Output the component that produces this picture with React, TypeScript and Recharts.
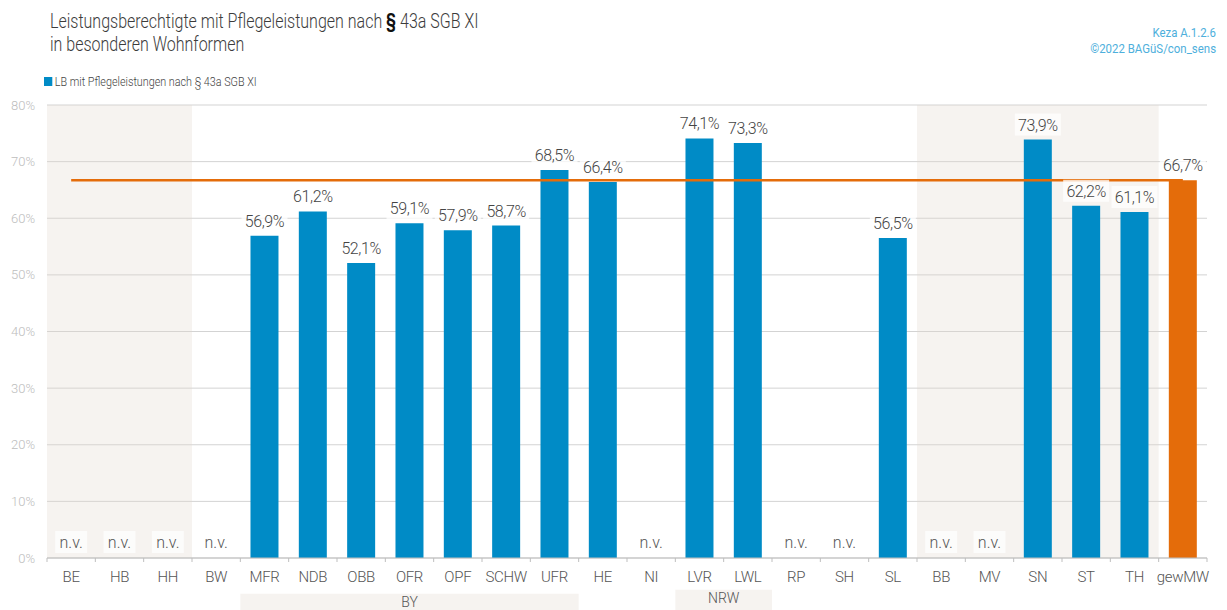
import React from 'react';
import {
  ComposedChart,
  Bar,
  Line,
  XAxis,
  YAxis,
  CartesianGrid,
  ReferenceArea,
  LabelList,
  Cell,
} from 'recharts';

const FONT = "'Roboto', 'Noto Sans', sans-serif";

// Bundesländer / Bezirke
const categories = [
  'BE', 'HB', 'HH', 'BW', 'MFR', 'NDB', 'OBB', 'OFR', 'OPF', 'SCHW', 'UFR', 'HE',
  'NI', 'LVR', 'LWL', 'RP', 'SH', 'SL', 'BB', 'MV', 'SN', 'ST', 'TH', 'gewMW',
];

// share of LB with Pflegeleistungen (%), null = n.v.
const shares: (number | null)[] = [
  null, null, null, null, 56.9, 61.2, 52.1, 59.1, 57.9, 58.7, 68.5, 66.4,
  null, 74.1, 73.3, null, null, 56.5, null, null, 73.9, 62.2, 61.1, 66.7,
];

const avgShare = 66.7;
const yTicks = [0, 10, 20, 30, 40, 50, 60, 70, 80];

const shadedRanges = [
  ['BE', 'HH'],
  ['BB', 'TH'],
];

const groupLabels = [
  { name: 'BY', from: 'MFR', to: 'UFR' },
  { name: 'NRW', from: 'LVR', to: 'LWL' },
];

const BLUE = '#008bc6';
const ORANGE = '#e46c0a';

const data = categories.map((name, i) => ({
  name,
  value: shares[i],
  nv: shares[i] === null ? 0 : null,
  avg: avgShare,
}));

const fmt = (v: number) => v.toFixed(1).replace('.', ',') + '%';

const ValueLabel = (props: any) => {
  const { x, y, value } = props;
  if (value === null || value === undefined) return null;
  return (
    <g>
      <rect x={x - 23} y={y - 26} width={46} height={22} fill="#ffffff" fillOpacity={0.75} />
      <text x={x} y={y - 9} textAnchor="middle" fill="#444" fontSize={16} fontWeight={300} letterSpacing={-0.4} fontFamily={FONT}>
        {fmt(value)}
      </text>
    </g>
  );
};

const NvLabel = (props: any) => {
  const { x, y, value } = props;
  if (value === null || value === undefined) return null;
  return (
    <g>
      <rect x={x - 16} y={y - 27} width={32} height={22} fill="#ffffff" fillOpacity={0.7} />
      <text x={x} y={y - 10} textAnchor="middle" fill="#555" fontSize={16} fontWeight={300} fontFamily={FONT}>
        n.v.
      </text>
    </g>
  );
};

const CategoryTick = (props: any) => {
  const { x, y, payload, index } = props;
  const half = payload.offset ?? 0;
  return (
    <g>
      <line x1={x - half} x2={x - half} y1={y - 8} y2={y - 4} stroke="#bfbfbf" />
      {index === categories.length - 1 && (
        <line x1={x + half} x2={x + half} y1={y - 8} y2={y - 4} stroke="#bfbfbf" />
      )}
      <text x={x} y={y} dy={16} textAnchor="middle" fill="#555" fontSize={15} fontWeight={300} letterSpacing={-0.3} fontFamily={FONT}>
        {payload.value}
      </text>
    </g>
  );
};

export default function App() {
  return (
    <div style={{ position: 'absolute', left: 0, top: 0, width: 1227, height: 610, fontFamily: FONT, background: '#fff', overflow: 'hidden' }}>
      <div
        style={{
          position: 'absolute', left: 50, top: 10, fontSize: 20, lineHeight: '23px', color: '#3c3c3c',
          fontWeight: 300, whiteSpace: 'nowrap', transform: 'scaleX(0.8)', transformOrigin: 'left top',
        }}
      >
        Leistungsberechtigte mit Pflegeleistungen nach <b style={{ color: '#111', fontWeight: 700 }}>§</b> 43a SGB XI
        <br />
        in besonderen Wohnformen
      </div>
      <div
        style={{
          position: 'absolute', right: 11, top: 25, fontSize: 13, lineHeight: '16px', color: '#4eafdc',
          textAlign: 'right', whiteSpace: 'nowrap', transform: 'scaleX(0.88)', transformOrigin: 'right top',
        }}
      >
        Keza A.1.2.6
        <br />
        ©2022 BAGüS/con_sens
      </div>
      <div
        style={{
          position: 'absolute', left: 44, top: 74, fontSize: 13, color: '#444', display: 'flex', alignItems: 'center',
          fontWeight: 300, whiteSpace: 'nowrap', transform: 'scaleX(0.83)', transformOrigin: 'left center',
        }}
      >
        <span style={{ display: 'inline-block', width: 10, height: 9, background: BLUE, marginRight: 3 }} />
        LB mit Pflegeleistungen nach § 43a SGB XI
      </div>
      <ComposedChart
        width={1227}
        height={610}
        data={data}
        margin={{ top: 105, right: 20, bottom: 22, left: 0 }}
        barCategoryGap="21%"
        style={{ position: 'absolute', left: 0, top: 0 }}
      >
        {shadedRanges.map(([a, b]) => (
          <ReferenceArea key={a} x1={a} x2={b} y1={0} y2={80} fill="#e0d6cc" fillOpacity={0.3} stroke="none" />
        ))}
        {groupLabels.map((g) => (
          <ReferenceArea
            key={g.name}
            x1={g.from}
            x2={g.to}
            y1={-12}
            y2={g.name === 'NRW' ? -5.6 : -6.3}
            ifOverflow="visible"
            fill="#e0d6cc"
            fillOpacity={0.3}
            stroke="none"
            label={{ value: g.name, position: 'insideTop', offset: 3, fill: '#555', fontSize: 14, fontWeight: 300, fontFamily: FONT }}
          />
        ))}
        <CartesianGrid vertical={false} stroke="#d3d3d3" />
        <XAxis
          dataKey="name"
          interval={0}
          axisLine={{ stroke: '#bfbfbf' }}
          tickLine={false}
          tick={<CategoryTick />}
          height={30}
        />
        <YAxis
          domain={[0, 80]}
          ticks={yTicks}
          width={47}
          axisLine={false}
          tickLine={false}
          tickMargin={6}
          tickFormatter={(v: number) => v + '%'}
          tick={{ fill: '#bdbdbd', fontSize: 13, fontWeight: 300, fontFamily: FONT }}
        />
        <Bar dataKey="value" fill={BLUE} isAnimationActive={false}>
          {data.map((d) => (
            <Cell key={d.name} fill={d.name === 'gewMW' ? ORANGE : BLUE} />
          ))}
        </Bar>
        <Line dataKey="avg" stroke={ORANGE} strokeWidth={2.5} dot={false} activeDot={false} isAnimationActive={false} />
        <Line dataKey="value" stroke="none" dot={false} activeDot={false} isAnimationActive={false}>
          <LabelList dataKey="value" content={<ValueLabel />} />
        </Line>
        <Line dataKey="nv" stroke="none" dot={false} activeDot={false} isAnimationActive={false}>
          <LabelList dataKey="nv" content={<NvLabel />} />
        </Line>
      </ComposedChart>
    </div>
  );
}
